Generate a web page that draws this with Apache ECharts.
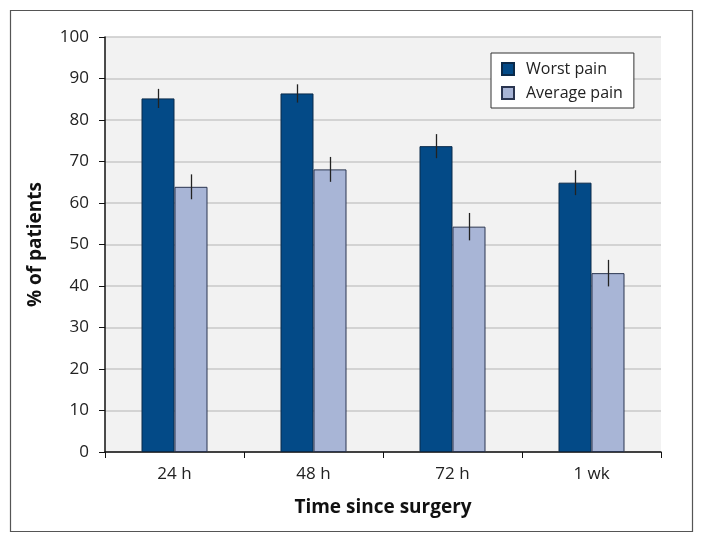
<!DOCTYPE html>
<html><head><meta charset="utf-8">
<script src="https://cdn.jsdelivr.net/npm/echarts@6/dist/echarts.min.js"></script>
<style>html,body{margin:0;padding:0;background:#fff}#c{width:705px;height:544px}</style>
</head><body><div id="c"></div>
<script>
var categories = ['24 h', '48 h', '72 h', '1 wk'];
var worstPain = [85.2, 86.4, 73.7, 64.9];
var worstErr = [2.3, 2.2, 2.9, 3.0];
var averagePain = [63.9, 68.1, 54.3, 43.1];
var averageErr = [3.0, 3.0, 3.3, 3.2];
var yTicks = [0, 10, 20, 30, 40, 50, 60, 70, 80, 90, 100];

var FONT = '"Open Sans", "Noto Sans", sans-serif';
var BAR_W = 33;

function errData(vals, errs) {
  return vals.map(function (v, i) { return [i, v - errs[i], v + errs[i]]; });
}
function errRender(offset) {
  return function (params, api) {
    var i = api.value(0);
    var lo = api.coord([i, api.value(1)]);
    var hi = api.coord([i, api.value(2)]);
    var x = Math.round(lo[0] + offset) + 0.5;
    return { type: 'line', shape: { x1: x, y1: hi[1], x2: x, y2: lo[1] },
      style: { stroke: '#222', lineWidth: 1.3 } };
  };
}

var chart = echarts.init(document.getElementById('c'), null, { renderer: 'canvas' });
chart.setOption({
  animation: false,
  backgroundColor: '#fff',
  textStyle: { fontFamily: FONT },
  graphic: [{ type: 'rect', shape: { x: 10.5, y: 10.5, width: 682, height: 521 },
    style: { fill: 'none', stroke: '#555', lineWidth: 1.2 }, z: -1 }],
  grid: { left: 105, right: 44, top: 37, bottom: 92, show: true, backgroundColor: '#f2f2f2', borderWidth: 0 },
  legend: {
    orient: 'vertical', left: 491, top: 53,
    backgroundColor: '#fff', borderColor: '#333', borderWidth: 1,
    padding: [8, 11, 7, 10], itemGap: 8, itemWidth: 12, itemHeight: 12,
    textStyle: { fontFamily: FONT, fontSize: 16, color: '#222', padding: [0, 0, 0, 7] },
    data: [{ name: 'Worst pain', icon: 'rect' }, { name: 'Average pain', icon: 'rect' }]
  },
  xAxis: {
    type: 'category', data: categories,
    name: 'Time since surgery', nameLocation: 'middle', nameGap: 46,
    nameTextStyle: { fontFamily: FONT, fontSize: 19, fontWeight: 'bold', color: '#111' },
    axisLine: { lineStyle: { color: '#111', width: 1.5 } },
    axisTick: { show: true, alignWithLabel: false, length: 6, lineStyle: { color: '#111' } },
    axisLabel: { fontFamily: FONT, fontSize: 17, color: '#222', margin: 14 }
  },
  yAxis: {
    type: 'value', min: 0, max: 100, interval: 10,
    name: '% of patients', nameLocation: 'middle', nameGap: 60,
    nameTextStyle: { fontFamily: FONT, fontSize: 19, fontWeight: 'bold', color: '#111' },
    axisLine: { show: true, lineStyle: { color: '#111', width: 1.5 } },
    axisTick: { show: true, length: 6, lineStyle: { color: '#111' } },
    axisLabel: { fontFamily: FONT, fontSize: 17, color: '#222', margin: 16,
      formatter: function (v) { return yTicks.indexOf(v) >= 0 ? String(v) : ''; } },
    splitLine: { lineStyle: { color: '#c8c8c8', width: 1.5 } }
  },
  series: [
    { name: 'Worst pain', type: 'bar', data: worstPain, barWidth: BAR_W, barGap: '0%',
      itemStyle: { color: '#034a87', borderColor: '#0a2a4a', borderWidth: 1 } },
    { name: 'Average pain', type: 'bar', data: averagePain, barWidth: BAR_W,
      itemStyle: { color: '#a8b5d6', borderColor: '#2a3550', borderWidth: 1 } },
    { type: 'custom', data: errData(worstPain, worstErr), renderItem: errRender(-BAR_W / 2), z: 5,
      encode: { x: 0, y: [1, 2] } },
    { type: 'custom', data: errData(averagePain, averageErr), renderItem: errRender(BAR_W / 2), z: 5,
      encode: { x: 0, y: [1, 2] } }
  ]
});
</script></body></html>
